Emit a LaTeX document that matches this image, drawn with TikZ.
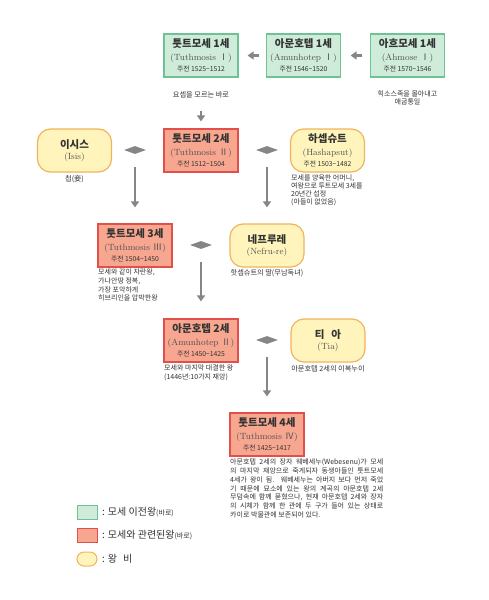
\documentclass[tikz,border=0pt]{standalone}
\usepackage{fontspec}
\newfontfamily\kr{Noto Sans CJK KR}
\usetikzlibrary{shapes.geometric,arrows.meta,calc}
\definecolor{gfill}{HTML}{CFEBD9}
\definecolor{gline}{HTML}{6FC293}
\definecolor{rfill}{HTML}{F7A690}
\definecolor{rline}{HTML}{E2504C}
\definecolor{yfill}{HTML}{FFF5BC}
\definecolor{yline}{HTML}{F0B45E}
\definecolor{arrg}{HTML}{868686}
\definecolor{txt}{HTML}{333333}
\tikzset{
 basebox/.style={line width=1.2pt, minimum width=74pt, minimum height=43pt, inner sep=0pt},
 gbox/.style={basebox, draw=gline, fill=gfill},
 rbox/.style={basebox, draw=rline, fill=rfill},
 ybox/.style={basebox, draw=yline, fill=yfill, rounded corners=13pt},
 ttl/.style={inner sep=0pt, text=txt, font=\kr\bfseries\fontsize{10.5}{12}\selectfont},
 subt/.style={inner sep=0pt, text=txt!85, font=\fontsize{9}{10}\selectfont},
 dat/.style={inner sep=0pt, text=txt, font=\kr\fontsize{6.8}{8}\selectfont},
 captxt/.style={inner sep=0pt, text=txt, font=\kr\fontsize{7.2}{8.5}\selectfont},
 arr/.style={draw=arrg, line width=2.6pt, -{Triangle[width=8pt,length=6pt]}},
 dia/.style={diamond, fill=arrg, minimum width=22pt, minimum height=8pt, inner sep=0pt, aspect=2.75},
 lgt/.style={anchor=west, inner sep=0pt, text=txt, font=\kr\fontsize{10}{12}\selectfont},
}
\newcommand\kingthree[7]{%
 \node[#2] (#1) at (#3) {};
 \node[ttl] (#1-t) at ($(#1.center)+(0,-12)$) {#4};
 \node[subt] (#1-s) at ($(#1.center)+(0,2.5)$) {#5};
 \node[dat] (#1-d) at ($(#1.center)+(0,13)$) {#6#7};
}
\newcommand\queentwo[5]{%
 \node[#2] (#1) at (#3) {};
 \node[ttl] (#1-t) at ($(#1.center)+(0,-5.5)$) {#4};
 \node[subt] (#1-s) at ($(#1.center)+(0,6.5)$) {#5};
}
\newcommand\rn[1]{{\kr #1}}
\begin{document}
\begin{tikzpicture}[x=1pt,y=-1pt]
\fill[white] (0,0) rectangle (489,600);
\useasboundingbox (0,0) rectangle (489,600);

% top row
\kingthree{b1}{gbox}{201,55.5}{툿트모세 1세}{(Tuthmosis \rn{Ⅰ})}{주전 1525\textasciitilde1512}{}
\kingthree{b2}{gbox}{303.5,55.5}{아문호텝 1세}{(Amunhotep \rn{Ⅰ})}{주전 1546\textasciitilde1520}{}
\kingthree{b3}{gbox}{407.5,55.5}{아흐모세 1세}{(Ahmose \rn{Ⅰ})}{주전 1570\textasciitilde1546}{}
\node[captxt] (c1) at (201,95) {요셉을 모르는 바로};
\node[captxt, align=center, font=\kr\fontsize{7}{7.8}\selectfont, anchor=north] (c3) at (407.5,90.5) {힉소스족을 몰아내고\\애굽통일};

% row 2
\queentwo{isis}{ybox}{74.5,150.5}{이시스}{(Isis)}
\kingthree{t2}{rbox}{201,150.5}{툿트모세 2세}{(Tuthmosis \rn{Ⅱ})}{주전 1512\textasciitilde1504}{}
\kingthree{hat}{ybox}{327.5,150.5}{하셉슈트}{(Hashapsut)}{주전 1503\textasciitilde1482}{}
\node[dia] (d1) at (135,150) {};
\node[dia] (d2) at (267,150) {};
\node[captxt] (cisis) at (74.5,179) {첩(妾)};
\node[captxt, align=left, font=\kr\fontsize{7}{8}\selectfont, anchor=north west] (chat) at (291,175)
 {모세를 양육한 어머니,\\여왕으로 투트모세 3세를\\20년간 섭정\\(아들이 없었음)};

% row 3
\kingthree{t3}{rbox}{135,245.5}{툿트모세 3세}{(Tuthmosis \rn{Ⅲ})}{주전 1504\textasciitilde1450}{}
\queentwo{nef}{ybox}{267,245.5}{네프루레}{(Nefru-re)}
\node[dia] (d3) at (201,245) {};
\node[captxt, align=left, font=\kr\fontsize{7}{8.6}\selectfont, anchor=north west] (ct3) at (98,269)
 {모세와 같이 자란왕,\\가나안땅 정복,\\가장 포악하게\\히브리인을 압박한왕};
\node[captxt] (cnef) at (267,273) {핫셉슈트의 딸(무남독녀)};

% row 4
\kingthree{a2}{rbox}{201,340.5}{아문호텝 2세}{(Amunhotep \rn{Ⅱ})}{주전 1450\textasciitilde1425}{}
\queentwo{tia}{ybox}{328,340.5}{티\hspace{7pt}아}{(Tia)}
\node[dia] (d4) at (267,340) {};
\node[captxt, align=left, font=\kr\fontsize{7}{9}\selectfont, anchor=north west] (ca2) at (164,365)
 {모세와 마지막 대결한 왕\\(1446년:10가지 재앙)};
\node[captxt] (ctia) at (328,369) {아문호텝 2세의 이복누이};

% row 5
\kingthree{t4}{rbox}{267,434.5}{툿트모세 4세}{(Tuthmosis \rn{Ⅳ})}{주전 1425\textasciitilde1417}{}
\node[captxt, align=left, font=\kr\fontsize{7}{8.67}\selectfont, anchor=north west] (ct4) at (230,459)
 {\makebox[153pt][s]{아문호텝 2세의 장자 웨베세누(Webesenu)가 모세}\\
  \makebox[153pt][s]{의 마지막 재앙으로 죽게되자 동생아들인 툿트모세}\\
  \makebox[153pt][s]{4세가 왕이 됨. 웨베세누는 아버지 보다 먼저 죽었}\\
  \makebox[153pt][s]{기 때문에 묘소에 있는 왕의 계곡의 아문호텝 2세}\\
  \makebox[153pt][s]{무덤속에 함께 묻혔으나, 현재 아문호텝 2세와 장자}\\
  \makebox[153pt][s]{의 시체가 함께 한 관에 두 구가 들어 있는 상태로}\\
  카이로 박물관에 보존되어 있다.};

% arrows
\draw[arr, shorten <=6.5pt, shorten >=9pt] (b2) -- (b1);
\draw[arr, shorten <=7.5pt, shorten >=9.5pt] (b3) -- (b2);
\draw[arr, shorten <=33pt, shorten >=7pt] (b1) -- (t2);
\draw[arr, shorten <=13pt, shorten >=16pt] (d1) -- (t3);
\draw[arr, shorten <=13pt, shorten >=16pt] (d2) -- (nef);
\draw[arr, shorten <=13pt, shorten >=17pt] (d3) -- (a2);
\draw[arr, shorten <=13pt, shorten >=16pt] (d4) -- (t4);

% legend
\node[gbox, minimum width=20pt, minimum height=14pt, line width=1pt] (lg1) at (87,512) {};
\node[rbox, minimum width=20pt, minimum height=14pt, line width=1pt] (lg2) at (87,535.5) {};
\node[ybox, minimum width=20pt, minimum height=14pt, line width=1pt, rounded corners=7pt] (lg3) at (87,559) {};
\node[lgt] (lg1t) at (102,512) {: 모세 이전왕{\fontsize{7}{8}\selectfont(바로)}};
\node[lgt] (lg2t) at (102,535.5) {: 모세와 관련된왕{\fontsize{7}{8}\selectfont(바로)}};
\node[lgt] (lg3t) at (102,559) {: 왕\hspace{6pt}비};
\end{tikzpicture}
\end{document}
